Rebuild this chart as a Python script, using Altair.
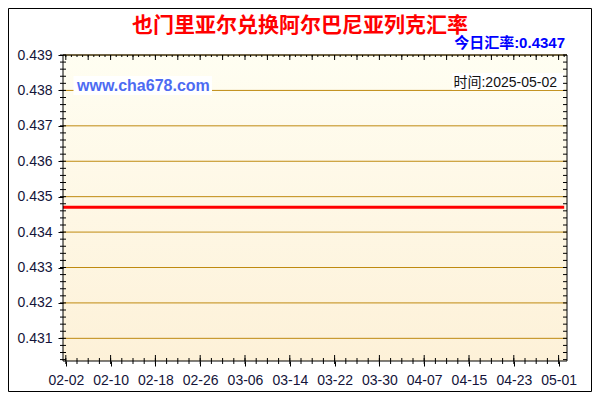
import altair as alt
import pandas as pd

# ---------------- data ----------------
title_text = "也门里亚尔兑换阿尔巴尼亚列克汇率"
rate_text = "今日汇率:0.4347"
site_text = "www.cha678.com"
time_text = "时间:2025-05-02"

dates = ["2025-02-01", "2025-02-08", "2025-02-15", "2025-02-22", "2025-03-01",
         "2025-03-08", "2025-03-15", "2025-03-22", "2025-03-29", "2025-04-05",
         "2025-04-12", "2025-04-19", "2025-04-26", "2025-05-02"]
rates = [0.4347, 0.4347, 0.4347, 0.4347, 0.4347, 0.4347, 0.4347,
         0.4347, 0.4347, 0.4347, 0.4347, 0.4347, 0.4347, 0.4347]

x_label_dates = ["2025-02-02", "2025-02-10", "2025-02-18", "2025-02-26",
                 "2025-03-06", "2025-03-14", "2025-03-22", "2025-03-30",
                 "2025-04-07", "2025-04-15", "2025-04-23", "2025-05-01"]
y_labels = [0.431, 0.432, 0.433, 0.434, 0.435, 0.436, 0.437, 0.438, 0.439]

# ---------------- helpers ----------------
W, H = 504, 306
LABEL_FONT = "Liberation Sans, Arial, Noto Sans CJK SC"
CJK_FONT = "Noto Sans CJK SC, Liberation Sans"

def T(s):
    return s + "T00:00:00"

def dt(s):
    y, m, d = s.split("-")
    return alt.DateTime(year=int(y), month=int(m), date=int(d))

xs = alt.Scale(domain=[alt.DateTime(year=2025, month=2, date=1, hours=12),
                       alt.DateTime(year=2025, month=5, date=2, hours=12)],
               nice=False)
ys = alt.Scale(domain=[0.43036, 0.439], nice=False, zero=False)

x_axis = alt.Axis(values=[dt(d) for d in x_label_dates], format="%m-%d",
                  tickSize=5, tickColor="black", labelPadding=7,
                  labelFont=LABEL_FONT, labelFontSize=14, labelColor="#14143a",
                  labelOverlap=False, labelFlush=False, domain=False,
                  grid=False, title="", zindex=1)
y_axis = alt.Axis(values=y_labels, format=".3f", tickSize=5, tickColor="black",
                  labelPadding=6, labelFont=LABEL_FONT, labelFontSize=14,
                  labelColor="#14143a", domain=False, grid=False,
                  title="", zindex=1)

def X(field):
    return alt.X(field + ":T", scale=xs, axis=x_axis)

def Y(field):
    return alt.Y(field + ":Q", scale=ys, axis=y_axis)

line_df = pd.DataFrame({"date": [T(d) for d in dates], "rate": rates})

y_minor = [round(0.4304 + 0.0002 * i, 4) for i in range(0, 44)]
y_minor_df = pd.DataFrame({"rate": y_minor})
y_major_df = pd.DataFrame({"rate": y_labels})

def dstr(rng):
    return [d.strftime("%Y-%m-%dT00:00:00") for d in rng]

top_small_df = pd.DataFrame({"date": dstr(pd.date_range("2025-02-02", "2025-05-02", freq="1D"))})
top_big_df = pd.DataFrame({"date": dstr(pd.date_range("2025-02-02", "2025-05-02", freq="4D"))})
bot_minor_df = pd.DataFrame({"date": dstr(pd.date_range("2025-02-02", "2025-05-02", freq="2D"))})
bot_major_df = pd.DataFrame({"date": [T(d) for d in x_label_dates]})
one = pd.DataFrame({"a": [0]})

# ---------------- layers ----------------
line = alt.Chart(line_df).mark_line(color="#FF0000", strokeWidth=3, clip=True).encode(
    x=X("date"), y=Y("rate"))

bg = alt.Chart(one).mark_rect(
    fill=alt.LinearGradient(gradient="linear",
                            stops=[alt.GradientStop(offset=0, color="#FFFEF2"),
                                   alt.GradientStop(offset=1, color="#FDF1D8")],
                            x1=0, x2=0, y1=0, y2=1)
).encode(x=alt.value(0), x2=alt.value(W), y=alt.value(0), y2=alt.value(H))

grid = alt.Chart(y_major_df).mark_rule(color="#BF8A10", strokeWidth=1).encode(
    y=Y("rate"), x=alt.value(0), x2=alt.value(W))

site_box = alt.Chart(one).mark_rect(fill="white").encode(
    x=alt.value(10.5), x2=alt.value(149), y=alt.value(21), y2=alt.value(40))
site_lbl = alt.Chart(one).mark_text(
    align="left", baseline="middle", font=LABEL_FONT, fontSize=16,
    fontWeight="bold", color="#4D6BF2"
).encode(x=alt.value(14), y=alt.value(30.5), text=alt.value(site_text))

time_box = alt.Chart(one).mark_rect(fill="white").encode(
    x=alt.value(389), x2=alt.value(501), y=alt.value(18), y2=alt.value(35))
time_lbl = alt.Chart(one).mark_text(
    align="right", baseline="middle", font=LABEL_FONT, fontSize=14, color="#111111"
).encode(x=alt.value(494), y=alt.value(27.5), text=alt.value(time_text))

left_minor = alt.Chart(y_minor_df).mark_rule(color="black").encode(
    y=Y("rate"), x=alt.value(-3), x2=alt.value(3))
right_minor = alt.Chart(y_minor_df).mark_rule(color="black").encode(
    y=Y("rate"), x=alt.value(W - 4), x2=alt.value(W))
bot_minor = alt.Chart(bot_minor_df).mark_rule(color="black").encode(
    x=X("date"), y=alt.value(H - 3), y2=alt.value(H + 3))
bot_major = alt.Chart(bot_major_df).mark_rule(color="black").encode(
    x=X("date"), y=alt.value(H - 6), y2=alt.value(H))
top_small = alt.Chart(top_small_df).mark_rule(color="black").encode(
    x=X("date"), y=alt.value(0), y2=alt.value(2))
top_big = alt.Chart(top_big_df).mark_rule(color="black").encode(
    x=X("date"), y=alt.value(0), y2=alt.value(5))

frame = alt.Chart(one).mark_rect(fillOpacity=0, stroke="black", strokeWidth=1).encode(
    x=alt.value(0), x2=alt.value(W), y=alt.value(0), y2=alt.value(H))
outer = alt.Chart(one).mark_rect(fillOpacity=0, stroke="black", strokeWidth=1).encode(
    x=alt.value(-54.5), x2=alt.value(528.5), y=alt.value(-46.5), y2=alt.value(336.5))

title = alt.Chart(one).mark_text(
    align="center", baseline="middle", font=CJK_FONT, fontSize=21,
    fontWeight="bold", color="#FF0000"
).encode(x=alt.value(237), y=alt.value(-29.5), text=alt.value(title_text))
rate_lbl = alt.Chart(one).mark_text(
    align="right", baseline="middle", font=LABEL_FONT, fontSize=15,
    fontWeight="bold", color="#0000FF"
).encode(x=alt.value(502), y=alt.value(-12), text=alt.value(rate_text))

chart = alt.layer(
    bg, grid, site_box, site_lbl, time_box, time_lbl, line,
    left_minor, right_minor, bot_minor, bot_major, top_small, top_big,
    frame, outer, title, rate_lbl
).properties(
    width=W, height=H,
    autosize=alt.AutoSizeParams(type="none"),
    padding={"left": 55, "top": 47, "right": 25, "bottom": 31},
    background="white"
).configure_view(strokeWidth=0)

chart.save("out.html", embed_options={"renderer": "svg", "actions": False})
